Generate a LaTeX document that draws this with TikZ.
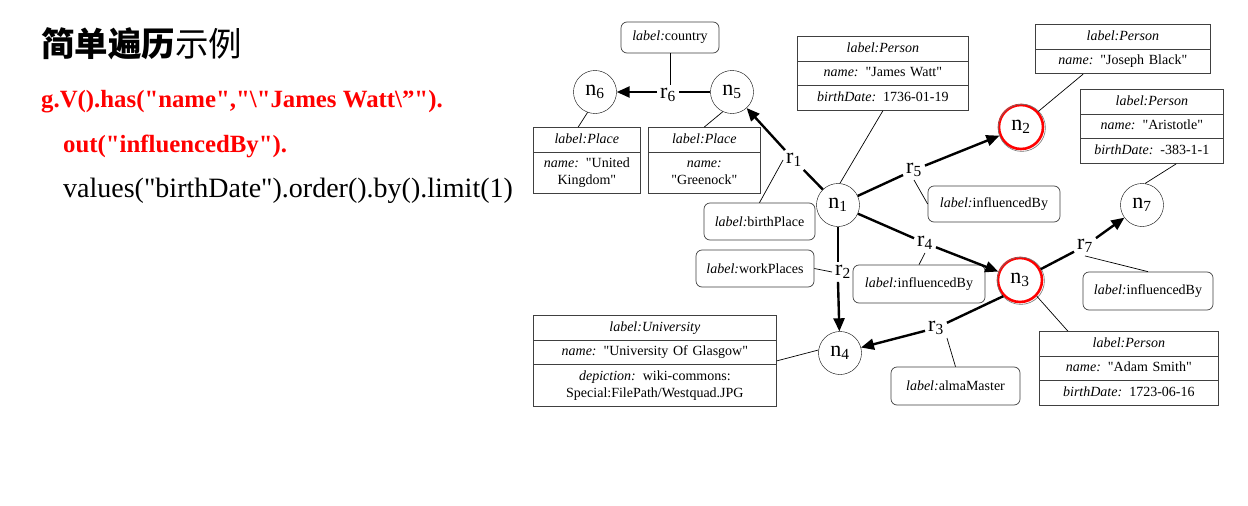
\documentclass[tikz,border=0pt]{standalone}
\usepackage{fontspec}
\newfontfamily\tnr{Liberation Serif}
\newfontfamily\cjk{Noto Sans CJK SC}
\newfontfamily\codefont{Liberation Serif}
\usetikzlibrary{shapes.multipart,arrows.meta,calc}
\newcommand\fld[1]{{\itshape #1}}
\begin{document}
\begin{tikzpicture}[x=1pt,y=-1pt,
  vert/.style={circle,draw,minimum size=43pt,inner sep=0pt,font=\tnr\fontsize{22}{24}\selectfont},
  hl/.style={circle,draw=red,line width=2.6pt,minimum size=44pt,inner sep=0pt,font=\tnr\fontsize{22}{24}\selectfont},
  rel/.style={inner sep=3pt,font=\tnr\fontsize{22}{24}\selectfont},
  edge/.style={line width=2.4pt},
  arr/.style={edge,-{Triangle[length=13pt,width=11pt]}},
  conn/.style={line width=0.7pt},
  lbox/.style={draw=black!75,line width=0.7pt,rounded corners=6pt,font=\tnr\fontsize{14}{17}\selectfont,inner sep=0pt},
  pbox/.style={draw=black!75,line width=0.7pt,rectangle split,rectangle split parts=#1,anchor=north west,
    font=\tnr\fontsize{14}{17}\selectfont,inner xsep=2pt,inner ysep=3.5pt,align=center},
  codetext/.style={anchor=base west,inner sep=0pt,font=\codefont\fontsize{28}{32}\selectfont},
  redcode/.style={anchor=base west,inner sep=0pt,text=red,font=\codefont\bfseries\fontsize{24.8}{30}\selectfont},
]
\useasboundingbox (0,0) rectangle (1248,506);
\fill[white] (0,0) rectangle (1248,506);

% title and code
\node[anchor=west,inner sep=0pt,font=\cjk\fontsize{33.5}{36}\selectfont] (title) at (41,44) {\bfseries 简单遍历\mdseries 示例};
\node[redcode] (code1) at (41,107) {g.V().has("name","\textbackslash"James Watt\textbackslash”").};
\node[redcode] (code2) at (63,152) {out("influencedBy").};
\node[codetext] (code3) at (63,197) {values("birthDate").order().by().limit(1)};

% vertices
\node[vert] (n6) at (595,92) {n\textsubscript{6}};
\node[vert] (n5) at (732,92) {n\textsubscript{5}};
\node[vert] (n1) at (838,205) {n\textsubscript{1}};
\node[hl] (n2) at (1021,127) {n\textsubscript{2}};
\node[hl] (n3) at (1020,280) {n\textsubscript{3}};
\node[vert] (n4) at (840,353) {n\textsubscript{4}};
\node[vert] (n7) at (1142,205) {n\textsubscript{7}};
\draw[black!55,line width=0.6pt] ($(n2)+(0.8,0.8)$) circle[radius=23.6];
\draw[black!55,line width=0.6pt] ($(n3)+(0.8,0.8)$) circle[radius=23.6];

% relation labels
\node[rel] (r6) at (668,95) {r\textsubscript{6}};
\node[rel] (r1) at (794,160) {r\textsubscript{1}};
\node[rel] (r5) at (914,170) {r\textsubscript{5}};
\node[rel] (r4) at (925,243) {r\textsubscript{4}};
\node[rel] (r7) at (1085,246) {r\textsubscript{7}};
\node[rel] (r3) at (936,328) {r\textsubscript{3}};
\node[rel] (r2) at (843,272) {r\textsubscript{2}};

% property boxes
\node[pbox=2,text width=103pt] (uk) at (533,127) {\strut\fld{label:Place}\nodepart{two}\strut\fld{name:} "United\\\strut Kingdom"};
\node[pbox=2,text width=108pt] (gr) at (648,127) {\strut\fld{label:Place}\nodepart{two}\strut\fld{name:}\\\strut "Greenock"};
\node[pbox=3,text width=167pt] (jw) at (797,36) {\strut\fld{label:Person}\nodepart{two}\strut\fld{name:} "James Watt"\nodepart{three}\strut\fld{birthDate:} 1736-01-19};
\node[pbox=2,text width=171pt] (jb) at (1035,24) {\strut\fld{label:Person}\nodepart{two}\strut\fld{name:} "Joseph Black"};
\node[pbox=3,text width=139pt] (ar) at (1080,89) {\strut\fld{label:Person}\nodepart{two}\strut\fld{name:} "Aristotle"\nodepart{three}\strut\fld{birthDate:} -383-1-1};
\node[pbox=3,text width=239pt] (uni) at (533,315) {\strut\fld{label:University}\nodepart{two}\strut\fld{name:} "University Of Glasgow"\nodepart{three}\strut\fld{depiction:} wiki-commons:\\\strut Special:FilePath/Westquad.JPG};
\node[pbox=3,text width=175pt] (as) at (1039,331) {\strut\fld{label:Person}\nodepart{two}\strut\fld{name:} "Adam Smith"\nodepart{three}\strut\fld{birthDate:} 1723-06-16};

% label boxes
\node[lbox,minimum width=98pt,minimum height=31pt] (country) at (670,37.5) {\fld{label:}country};
\node[lbox,minimum width=111pt,minimum height=37pt] (bp) at (759.5,221.5) {\fld{label:}birthPlace};
\node[lbox,minimum width=118pt,minimum height=37pt] (wp) at (755,268.5) {\fld{label:}workPlaces};
\node[lbox,minimum width=132pt,minimum height=36pt] (ib5) at (994,204) {\fld{label:}influencedBy};
\node[lbox,minimum width=132pt,minimum height=38pt] (ib4) at (919,284) {\fld{label:}influencedBy};
\node[lbox,minimum width=130pt,minimum height=38pt] (ib7) at (1148,291) {\fld{label:}influencedBy};
\node[lbox,minimum width=129pt,minimum height=38pt] (am) at (955.5,386) {\fld{label:}almaMaster};

% thin connectors
\draw[conn] (country.south) -- (country.south |- r6.north);
\draw[conn] (n6.250) -- ($(uk.north west)!0.42!(uk.north east)$);
\draw[conn] (n5.245) -- (gr.north);
\draw[conn] (jw.south) -- (n1.85);
\draw[conn] (r1.west) -- (bp.north);
\draw[conn] (r5.south) -- (ib5.west);
\draw[conn] (n2.42) -- ($(jb.south west)!0.274!(jb.south east)$);
\draw[conn] (n7.82) -- ($(ar.south west)!0.67!(ar.south east)$);
\draw[conn] (r4.south) -- (ib4.north);
\draw[conn] (r7.south) -- (ib7.north);
\draw[conn] (r2.west) -- (wp.east);
\draw[conn] (uni.east) -- (n4.172);
\draw[conn] (r3.south east) -- (am.north);
\draw[conn] (n3.316) -- ($(as.north west)!0.16!(as.north east)$);

% edges
\draw[edge] (n5) -- (r6.east |- n5);
\draw[arr] (r6.west |- n6) -- (n6);
\draw[edge] (n1) -- (r1);
\draw[arr] (r1) -- (n5);
\draw[edge] (n1) -- (r5);
\draw[arr] (r5) -- (n2);
\draw[edge] (n1) -- (r4);
\draw[arr] (r4) -- (n3);
\draw[edge] (n3) -- (r7);
\draw[arr] (r7) -- (n7);
\draw[edge] (n3.224) -- (r3);
\draw[arr] (r3) -- (n4);
\draw[edge] (n1) -- (n1 |- r2.north);
\draw[arr] (n1 |- r2.south) -- (n4);
\end{tikzpicture}
\end{document}
